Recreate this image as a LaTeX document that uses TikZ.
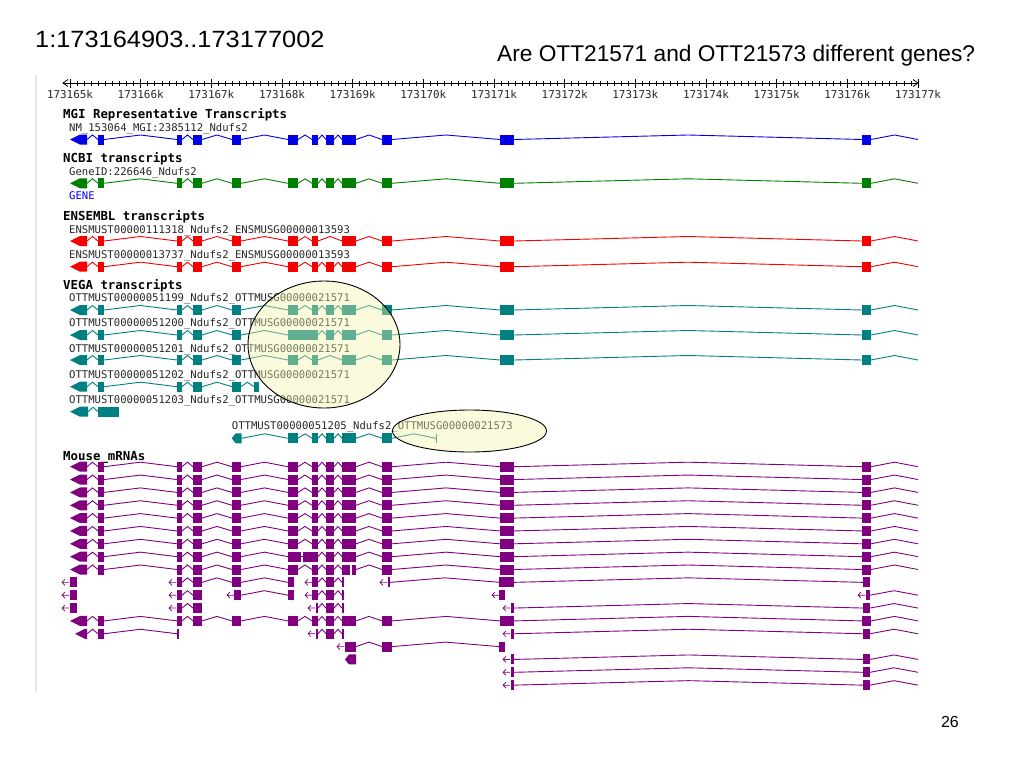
\documentclass[tikz,border=0pt]{standalone}
\usepackage{fontspec}
\setmainfont{Liberation Sans}
\newfontfamily\monof{DejaVu Sans Mono}
\usetikzlibrary{arrows.meta}
\definecolor{mgi}{RGB}{0,0,230}
\definecolor{ncbi}{RGB}{0,128,0}
\definecolor{ens}{RGB}{245,0,0}
\definecolor{vega}{RGB}{0,128,128}
\definecolor{mrna}{RGB}{128,0,128}
\definecolor{hl}{RGB}{243,243,172}
\definecolor{edge}{RGB}{232,232,214}
\definecolor{txt}{RGB}{40,40,40}
\definecolor{geneblue}{RGB}{0,0,255}
\newcommand{\gEx}[3]{\fill (#1,#3-5) rectangle (#2,#3+5);}
\newcommand{\gIn}[3]{\draw[line width=0.9] (#1,#3) -- ({(#1+#2)/2},#3-4.5) -- (#2,#3);}
\newcommand{\gAr}[3]{\fill (#1,#3) -- (#1+10,#3-5) -- (#2,#3-5) -- (#2,#3+5) -- (#1+10,#3+5) -- cycle;}
\newcommand{\gPe}[3]{\fill (#1,#3) -- (#1+4,#3-5) -- (#2,#3-5) -- (#2,#3+5) -- (#1+4,#3+5) -- cycle;}
\newcommand{\gSa}[2]{\draw[line width=0.7] (#1+7,#2) -- (#1,#2) (#1+3,#2-3) -- (#1,#2) -- (#1+3,#2+3);}
\newcommand{\gHead}[1]{\gAr{70}{87}{#1}\gIn{87}{98}{#1}\gEx{98}{104}{#1}\gIn{104}{177}{#1}\gEx{177}{182}{#1}\gIn{182}{193}{#1}\gEx{193}{202}{#1}\gIn{202}{232}{#1}\gEx{232}{241}{#1}\gIn{241}{288}{#1}}
\newcommand{\gMidFull}[1]{\gEx{288}{298}{#1}\gIn{298}{312}{#1}\gEx{312}{318}{#1}\gIn{318}{326}{#1}\gEx{326}{334}{#1}\gIn{334}{342}{#1}\gEx{342}{356}{#1}}
\newcommand{\gMidNoEight}[1]{\gEx{288}{298}{#1}\gIn{298}{312}{#1}\gEx{312}{318}{#1}\gIn{318}{342}{#1}\gEx{342}{356}{#1}}
\newcommand{\gTail}[1]{\gIn{356}{382}{#1}\gEx{382}{392}{#1}\gIn{392}{500}{#1}\gEx{500}{514}{#1}\gIn{514}{862}{#1}\gEx{862}{871}{#1}\gIn{871}{918}{#1}}
\newcommand{\gFull}[1]{\gHead{#1}\gMidFull{#1}\gTail{#1}}
\newcommand{\gEnd}[1]{\gSa{503}{#1}\gEx{510.5}{514}{#1}\gIn{514}{863}{#1}\gEx{863}{870}{#1}\gIn{870}{918}{#1}}
\newcommand{\gMidFrag}[1]{\gSa{308}{#1}\gEx{315.5}{318}{#1}\gIn{318}{326}{#1}\gEx{326}{334}{#1}\gIn{334}{342}{#1}\gEx{342}{344}{#1}}
\begin{document}
\begin{tikzpicture}[x=1pt,y=-1pt,
  hdr/.style={anchor=base west,inner sep=0,font=\monof\bfseries\fontsize{12.4}{14}\selectfont},
  lbl/.style={anchor=base west,inner sep=0,font=\monof\fontsize{10.6}{12}\selectfont,text=txt},
  rul/.style={anchor=base,inner sep=0,font=\monof\fontsize{10.9}{12}\selectfont,text=txt}]
\useasboundingbox (0,0) rectangle (1024,768);
\fill[white] (0,0) rectangle (1024,768);
% titles
\node[anchor=base west,inner sep=0,font=\fontsize{23.5}{28}\selectfont] (title) at (35,47.5) {\scalebox{1.08}[1]{1:173164903..173177002}};
\node[anchor=base west,inner sep=0,font=\fontsize{22.7}{27}\selectfont] (question) at (497,62) {Are OTT21571 and OTT21573 different genes?};
\node[anchor=base east,inner sep=0,font=\fontsize{16}{19}\selectfont] (page) at (959,727) {26};
% left border
\draw[edge,line width=1.6] (36,75) -- (36,692);
% ruler
\draw[line width=0.8] (63,83) -- (918,83);
\draw[line width=0.8] (68,79.5) -- (63,83) -- (68,86.5);
\draw[line width=0.8] (913,79.5) -- (918,83) -- (913,86.5);
\foreach \i in {0,...,120}{
  \pgfmathsetmacro\xx{70+\i*7.0667}
  \draw[line width=0.7] (\xx,81) -- (\xx,86);
}
\foreach \k in {0,...,12}{
  \pgfmathsetmacro\xx{70+\k*70.667}
  \pgfmathtruncatemacro\kk{65+\k}
  \draw[line width=0.8] (\xx,79) -- (\xx,87.5);
  \node[rul] (r\k) at (\xx,98.5) {1731\kk k};
}
% MGI
\node[hdr] (hmgi) at (63,118.8) {MGI Representative Transcripts};
\node[lbl] (lmgi) at (69,131.5) {NM\_153064\_MGI:2385112\_Ndufs2};
\begin{scope}[mgi]\gFull{139.5}\end{scope}
% NCBI
\node[hdr] (hncbi) at (63,162.8) {NCBI transcripts};
\node[lbl] (lncbi) at (69,175) {GeneID:226646\_Ndufs2};
\begin{scope}[ncbi]\gFull{183.3}\end{scope}
\node[lbl,text=geneblue] (gene) at (69,199) {GENE};
% ENSEMBL
\node[hdr] (hens) at (63,220.5) {ENSEMBL transcripts};
\node[lbl] (lens1) at (69,233.2) {ENSMUST00000111318\_Ndufs2\_ENSMUSG00000013593};
\node[lbl] (lens2) at (69,258.9) {ENSMUST00000013737\_Ndufs2\_ENSMUSG00000013593};
\begin{scope}[ens]
\gHead{241}\gMidNoEight{241}\gTail{241}
\gFull{266.7}
\end{scope}
% VEGA
\node[hdr] (hvega) at (63,289) {VEGA transcripts};
\node[lbl] (v1) at (69,301.2) {OTTMUST00000051199\_Ndufs2\_OTTMUSG00000021571};
\node[lbl] (v2) at (69,326.6) {OTTMUST00000051200\_Ndufs2\_OTTMUSG00000021571};
\node[lbl] (v3) at (69,352.2) {OTTMUST00000051201\_Ndufs2\_OTTMUSG00000021571};
\node[lbl] (v4) at (69,378.2) {OTTMUST00000051202\_Ndufs2\_OTTMUSG00000021571};
\node[lbl] (v5) at (69,403.9) {OTTMUST00000051203\_Ndufs2\_OTTMUSG00000021571};
\node[lbl] (v6) at (231.7,429.6) {OTTMUST00000051205\_Ndufs2\_OTTMUSG00000021573};
\begin{scope}[vega]
\gFull{310}
\gHead{335}\gEx{288}{318}{335}\gIn{318}{326}{335}\gEx{326}{334}{335}\gIn{334}{342}{335}\gEx{342}{356}{335}\gTail{335}
\gHead{360}\gMidNoEight{360}\gTail{360}
\gAr{70}{87}{386.7}\gIn{87}{98}{386.7}\gEx{98}{104}{386.7}\gIn{104}{177}{386.7}\gEx{177}{182}{386.7}\gIn{182}{193}{386.7}\gEx{193}{202}{386.7}\gIn{202}{232}{386.7}\gEx{232}{241}{386.7}\gIn{241}{254}{386.7}\gEx{254}{259}{386.7}
\gAr{70}{88}{411.7}\gIn{88}{98}{411.7}\gEx{98}{119}{411.7}
\gPe{231.7}{241.7}{438.3}\gIn{241.7}{288}{438.3}\gMidFull{438.3}\gIn{356}{382}{438.3}\gEx{382}{392}{438.3}\gIn{392}{436}{438.3}
\draw[line width=0.9] (436,434) -- (436,442.6);
\end{scope}
% Mouse mRNAs
\node[hdr] (hmrna) at (63,460.5) {Mouse\_mRNAs};
\begin{scope}[mrna]
\foreach \i in {0,...,6}{
  \pgfmathsetmacro\yy{466.7+12.85*\i}
  \gFull{\yy}
}
% row 7
\gHead{556.65}\gEx{288}{300.5}{556.65}\draw[line width=0.9] (300.5,556.65) -- (303,556.65);\gEx{303}{318}{556.65}\gIn{318}{326}{556.65}\gEx{326}{334}{556.65}\gIn{334}{342}{556.65}\gEx{342}{356}{556.65}\gTail{556.65}
% row 8
\gHead{569.5}\gEx{288}{298}{569.5}\gIn{298}{312}{569.5}\gEx{312}{318}{569.5}\gIn{318}{326}{569.5}\gEx{326}{334}{569.5}\gIn{334}{342}{569.5}\gEx{342}{350}{569.5}\gEx{351.5}{356}{569.5}\gTail{569.5}
% row 9
\gSa{62}{582.35}\gEx{70}{77}{582.35}
\gSa{169}{582.35}\gEx{177}{182}{582.35}\gIn{182}{193}{582.35}\gEx{193}{202}{582.35}\gIn{202}{232}{582.35}\gEx{232}{241}{582.35}\gIn{241}{288}{582.35}\gEx{288}{294}{582.35}
\gSa{305}{582.35}\gEx{312}{318}{582.35}\gIn{318}{326}{582.35}\gEx{326}{334}{582.35}\gIn{334}{342}{582.35}\gEx{342}{344}{582.35}
\gSa{380}{582.35}\gEx{387.5}{390}{582.35}\gIn{390}{500}{582.35}\gEx{499}{514}{582.35}\gIn{514}{863}{582.35}\gEx{863}{870}{582.35}
% row 10
\gSa{62}{595.2}\gEx{70}{77}{595.2}
\gSa{169}{595.2}\gEx{177}{182}{595.2}\gIn{182}{193}{595.2}\gEx{193}{202}{595.2}
\gSa{227}{595.2}\gEx{234}{241}{595.2}\gIn{241}{288}{595.2}\gEx{288}{294}{595.2}
\gSa{305}{595.2}\gEx{312}{318}{595.2}\gIn{318}{326}{595.2}\gEx{326}{334}{595.2}\gIn{334}{342}{595.2}\gEx{342}{344}{595.2}
\gSa{492}{595.2}\gEx{499}{505}{595.2}
\gSa{858}{595.2}\gEx{866}{870}{595.2}\gIn{870}{918}{595.2}
% row 11
\gSa{62}{608.05}\gEx{70}{77}{608.05}
\gSa{169}{608.05}\gEx{177}{182}{608.05}\gIn{182}{193}{608.05}\gEx{193}{202}{608.05}
\gMidFrag{608.05}
\gEnd{608.05}
% row 12
\gFull{620.9}
% row 13
\gAr{75}{87}{633.75}\gIn{87}{98}{633.75}\gEx{98}{104}{633.75}\gIn{104}{177}{633.75}\gEx{177}{178.8}{633.75}
\gMidFrag{633.75}
\gEnd{633.75}
% row 14
\gSa{337}{646.6}\gEx{345}{356}{646.6}\gIn{356}{382}{646.6}\gEx{382}{392}{646.6}\gIn{392}{499}{646.6}\gEx{499}{505}{646.6}
% row 15
\gPe{345}{356}{659.45}
\gEnd{659.45}
% rows 16-17
\gEnd{672.3}
\gEnd{685.15}
\end{scope}
% highlight ellipses
\draw[black,line width=0.9,fill=hl,fill opacity=0.4] (324,344.5) ellipse [x radius=76, y radius=63.5];
\draw[black,line width=0.9,fill=hl,fill opacity=0.4] (469.5,431) ellipse [x radius=77, y radius=21];
\end{tikzpicture}
\end{document}
